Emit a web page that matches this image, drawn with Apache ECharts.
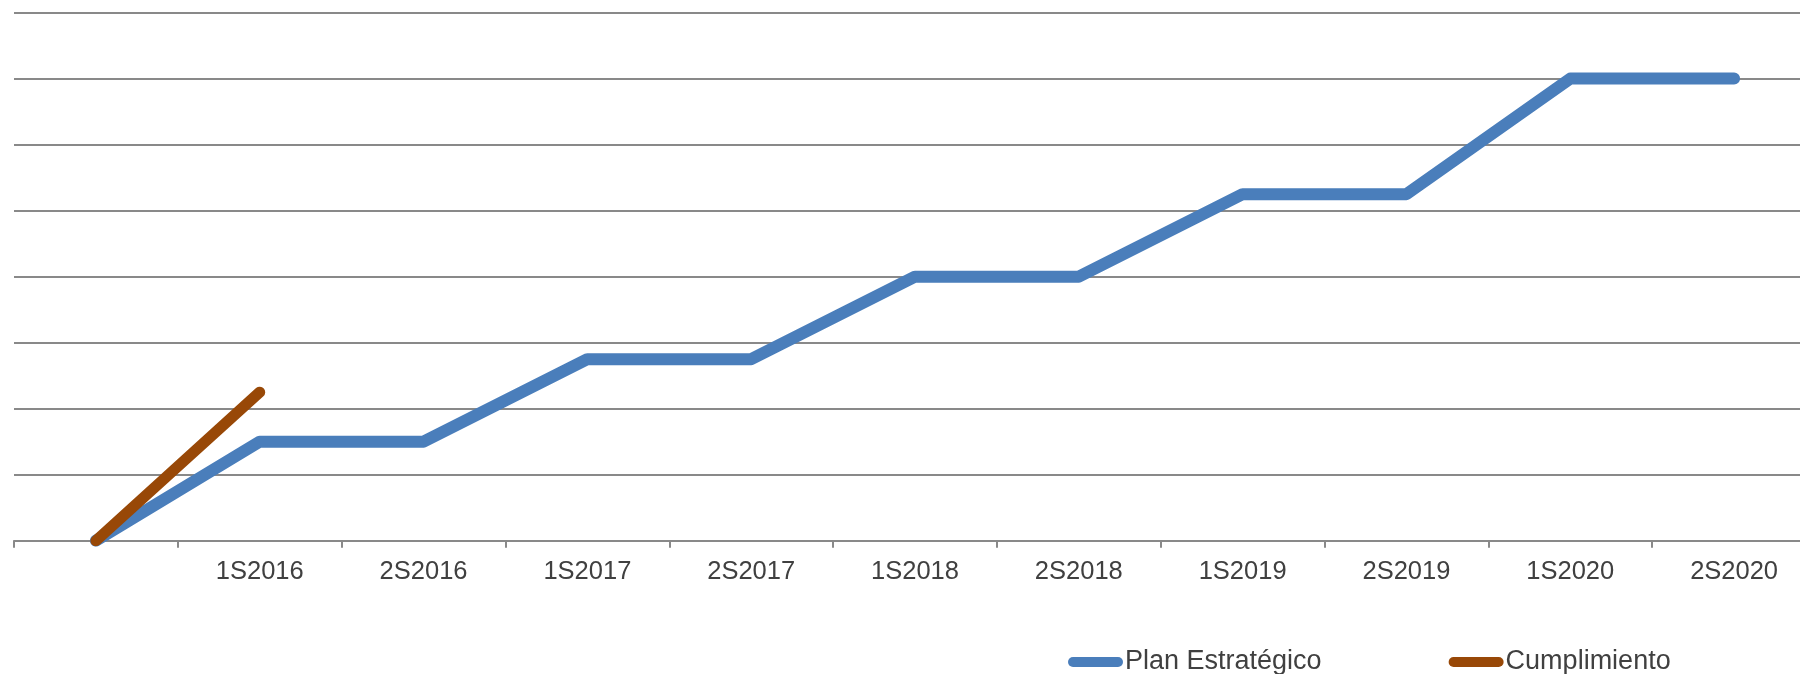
<!DOCTYPE html>
<html>
<head>
<meta charset="utf-8">
<script src="https://cdn.jsdelivr.net/npm/echarts@6/dist/echarts.min.js"></script>
<style>
    html, body { margin: 0; padding: 0; background: #fff; }
    #chart { width: 1800px; height: 674px; }
</style>
</head>
<body>
<div id="chart"></div>
<script>
    // semesters; the first slot is the unnamed starting point
    const periods = ['', '1S2016', '2S2016', '1S2017', '2S2017', '1S2018', '2S2018', '1S2019', '2S2019', '1S2020', '2S2020'];
    const planEstrategico = [0, 1.5, 1.5, 2.75, 2.75, 4, 4, 5.25, 5.25, 7, 7];
    const cumplimiento = [0, 2.25, null, null, null, null, null, null, null, null, null];
    const seriesNames = ['Plan Estratégico', 'Cumplimiento'];

    // capsule shaped legend mark, like a thick line with round ends
    const capsule = 'path://M5,0 L50,0 A5,5 0 0 1 50,10 L5,10 A5,5 0 0 1 5,0 Z';

    let chart = echarts.init(document.getElementById('chart'), null, { renderer: 'canvas' });
    let option = {
        animation: false,
        textStyle: { fontFamily: 'Liberation Sans, Arial, sans-serif' },
        grid: {
            left: 14,
            width: 1802,   // last band runs past the right edge, as in the original
            top: 12.6,
            bottom: 133.3,
            containLabel: false,
            outerBoundsMode: 'none'
        },
        legend: {
            left: 1063,
            top: 643.5,
            itemWidth: 55,
            itemHeight: 11,
            itemGap: 127,
            icon: capsule,
            textStyle: { fontSize: 27, color: '#404040', padding: [0, 0, 0, -3] },
            data: seriesNames
        },
        xAxis: {
            type: 'category',
            data: periods,
            boundaryGap: true,
            axisLine: { lineStyle: { color: '#898989', width: 2 } },
            axisTick: { show: true, length: 7, lineStyle: { color: '#898989', width: 2 } },
            axisLabel: { fontSize: 25.5, color: '#404040', margin: 18, interval: 0 }
        },
        yAxis: {
            type: 'value',
            min: 0,
            max: 8,
            interval: 1,
            axisLine: { show: false },
            axisTick: { show: false },
            axisLabel: { show: false },
            splitLine: { lineStyle: { color: '#898989', width: 2 } }
        },
        series: [
            {
                name: seriesNames[0],
                type: 'line',
                data: planEstrategico,
                symbol: 'none',
                color: '#4a7ebb',
                lineStyle: { width: 12, color: '#4a7ebb', cap: 'round', join: 'round' }
            },
            {
                name: seriesNames[1],
                type: 'line',
                data: cumplimiento,
                symbol: 'none',
                color: '#984807',
                lineStyle: { width: 11, color: '#984807', cap: 'round', join: 'round' }
            }
        ]
    };
    chart.setOption(option);
</script>
</body>
</html>
